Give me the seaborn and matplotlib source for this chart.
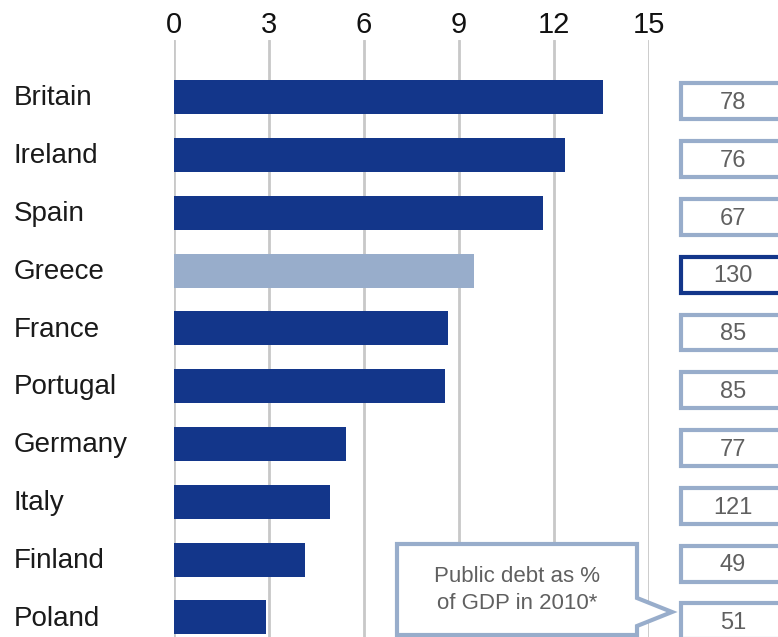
import matplotlib
matplotlib.use("Agg")
import matplotlib.pyplot as plt
import matplotlib.transforms as mtransforms
from matplotlib.patches import Rectangle, Polygon
from matplotlib import font_manager
import seaborn as sns
import pandas as pd

countries = ["Britain", "Ireland", "Spain", "Greece", "France", "Portugal",
             "Germany", "Italy", "Finland", "Poland"]
values = [13.55, 12.35, 11.65, 9.47, 8.65, 8.56, 5.43, 4.93, 4.14, 2.9]
debt = [78, 76, 67, 130, 85, 85, 77, 121, 49, 51]
highlight = ["no", "no", "no", "yes", "no", "no", "no", "no", "no", "no"]
xticks = [0, 3, 6, 9, 12, 15]
callout_text = "Public debt as %\nof GDP in 2010*"

names = {f.name for f in font_manager.fontManager.ttflist}
fam = "Liberation Sans Narrow" if "Liberation Sans Narrow" in names else "Liberation Sans"

sns.set_theme(style="white")
plt.rcParams["font.family"] = [fam, "DejaVu Sans"]

DARK = "#13368a"
LIGHT = "#98adcb"
GRID = "#c8c8c8"
GRAYTXT = "#606060"

df = pd.DataFrame({"country": countries, "value": values, "hl": highlight})

W, H = 778, 637
fig = plt.figure(figsize=(W / 100, H / 100), dpi=100)
ax_left, ax_right, ax_top = 174, 649, 40
ax = fig.add_axes([ax_left / W, 0, (ax_right - ax_left) / W, (H - ax_top) / H])

sns.barplot(data=df, x="value", y="country", hue="hl", orient="h",
            palette={"no": DARK, "yes": LIGHT}, width=0.59, dodge=False,
            saturation=1, linewidth=0, legend=False, ax=ax, zorder=3)

ax.set_xlim(0, 15)
ax.set_ylim(9.34, -0.99)
ax.set_xticks(xticks)
ax.set_xticklabels([str(t) for t in xticks], fontsize=21, color="#111111")
ax.xaxis.tick_top()
ax.tick_params(axis="x", length=0, pad=1)
ax.set_yticks([])
ax.set_xlabel("")
ax.set_ylabel("")
for s in ax.spines.values():
    s.set_visible(False)
ax.grid(axis="x", color=GRID, linewidth=2, zorder=0)
ax.set_axisbelow(True)


def px(x):
    return x / W


blend = mtransforms.blended_transform_factory(fig.transFigure, ax.transData)

for i, (c, d) in enumerate(zip(countries, debt)):
    ax.text(px(14), i + 0.02, c, transform=blend, ha="left", va="center",
            fontsize=20, color="#1a1a1a", clip_on=False)
    ec = DARK if highlight[i] == "yes" else LIGHT
    r = Rectangle((px(681), i + 0.07 - 0.31), px(120), 0.62, transform=blend,
                  facecolor="white", edgecolor=ec, linewidth=3, clip_on=False,
                  zorder=5)
    ax.add_patch(r)
    ax.text(px(733), i + 0.1, str(d), transform=blend, ha="center",
            va="center", fontsize=17, color=GRAYTXT,
            clip_on=False, zorder=6)


def fxy(x, y):
    return (x / W, (H - y) / H)


pts = [fxy(397, 544), fxy(637, 544), fxy(637, 598), fxy(672, 612),
       fxy(637, 626), fxy(637, 635), fxy(397, 635)]
poly = Polygon(pts, closed=True, transform=fig.transFigure, facecolor="white",
               edgecolor=LIGHT, linewidth=3, zorder=7, clip_on=False)
fig.add_artist(poly)
fig.text(517 / W, (H - 590) / H, callout_text, ha="center", va="center",
         fontsize=16, color=GRAYTXT, linespacing=1.4, zorder=8)

fig.savefig("out.png", dpi=100)
